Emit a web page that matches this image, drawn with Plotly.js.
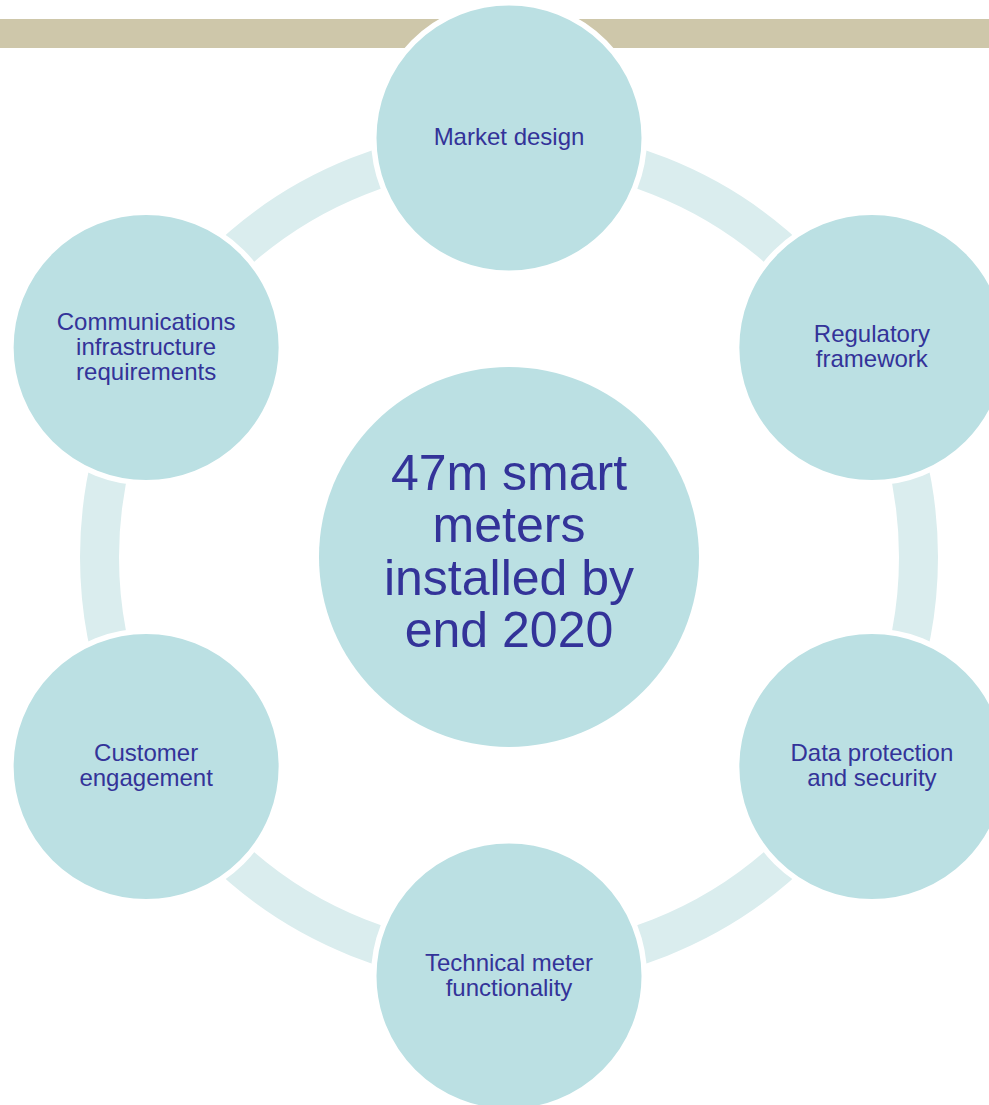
<!DOCTYPE html>
<html>
<head>
<meta charset="utf-8">
<script src="https://cdn.plot.ly/plotly-3.0.1.min.js"></script>
<style>html,body{margin:0;padding:0;background:#fff;}#chart{width:989px;height:1105px;}</style>
</head>
<body>
<div id="chart"></div>
<script>
// ---- data ----
const centerLabel = ['47m smart', 'meters', 'installed by', 'end 2020'];
const nodeLabels = [
  ['Market design'],
  ['Regulatory', 'framework'],
  ['Data protection', 'and security'],
  ['Technical meter', 'functionality'],
  ['Customer', 'engagement'],
  ['Communications', 'infrastructure', 'requirements']
];
const nodeAngles = [90, 30, -30, -90, -150, 150];

// ---- layout / style constants ----
const W = 989, H = 1105;
const CX = 509, CY = 557;
const ORBIT = 419;
const NODE_R = 132.5, BORDER = 5.5;
const CENTER_R = 190;
const RING_R = 409.5, RING_W = 39;
const CIRCLE_FILL = '#bbe0e3', RING_COLOR = '#daedee', BAR_COLOR = '#cec7aa';
const TEXT_COLOR = '#333399';
const FONT = 'Liberation Sans, Arial, sans-serif';
const SMALL_SIZE = 24, SMALL_LH = 25;
const BIG_SIZE = 50, BIG_LH = 52.5;

const nodes = nodeAngles.map(a => ({
  x: CX + ORBIT * Math.cos(a * Math.PI / 180),
  y: CY - ORBIT * Math.sin(a * Math.PI / 180)
}));

const shapes = [];
// top band
shapes.push({type: 'rect', xref: 'x', yref: 'y', x0: 0, x1: W, y0: 19, y1: 48,
  fillcolor: BAR_COLOR, line: {width: 0}, layer: 'below'});
// ring
shapes.push({type: 'circle', xref: 'x', yref: 'y',
  x0: CX - RING_R, x1: CX + RING_R, y0: CY - RING_R, y1: CY + RING_R,
  fillcolor: 'rgba(0,0,0,0)', line: {color: RING_COLOR, width: RING_W}, layer: 'below'});
// satellite circles
const R = NODE_R + BORDER / 2;
nodes.forEach(n => {
  shapes.push({type: 'circle', xref: 'x', yref: 'y',
    x0: n.x - R, x1: n.x + R, y0: n.y - R, y1: n.y + R,
    fillcolor: CIRCLE_FILL, line: {color: '#ffffff', width: BORDER}, layer: 'below'});
});
// center circle
shapes.push({type: 'circle', xref: 'x', yref: 'y',
  x0: CX - CENTER_R, x1: CX + CENTER_R, y0: CY - CENTER_R, y1: CY + CENTER_R,
  fillcolor: CIRCLE_FILL, line: {width: 0}, layer: 'below'});

// text traces
const sx = [], sy = [], st = [];
nodeLabels.forEach((lines, i) => {
  lines.forEach((t, j) => {
    sx.push(nodes[i].x);
    sy.push(nodes[i].y + 1 + (j - (lines.length - 1) / 2) * SMALL_LH);
    st.push(t);
  });
});
const bx = [], by = [], bt = [];
centerLabel.forEach((t, j) => {
  bx.push(CX);
  by.push(CY - 1 + (j - (centerLabel.length - 1) / 2) * BIG_LH);
  bt.push(t);
});

const traces = [
  {type: 'scatter', mode: 'text', x: sx, y: sy, text: st, textposition: 'middle center',
   textfont: {family: FONT, size: SMALL_SIZE, color: TEXT_COLOR}, hoverinfo: 'skip', showlegend: false},
  {type: 'scatter', mode: 'text', x: bx, y: by, text: bt, textposition: 'middle center',
   textfont: {family: FONT, size: BIG_SIZE, color: TEXT_COLOR}, hoverinfo: 'skip', showlegend: false}
];

const layout = {
  width: W, height: H,
  margin: {l: 0, r: 0, t: 0, b: 0, pad: 0},
  paper_bgcolor: '#ffffff', plot_bgcolor: '#ffffff',
  xaxis: {range: [0, W], visible: false, fixedrange: true},
  yaxis: {range: [H, 0], visible: false, fixedrange: true},
  shapes: shapes,
  showlegend: false
};

Plotly.newPlot('chart', traces, layout, {displayModeBar: false, staticPlot: true});
</script>
</body>
</html>
